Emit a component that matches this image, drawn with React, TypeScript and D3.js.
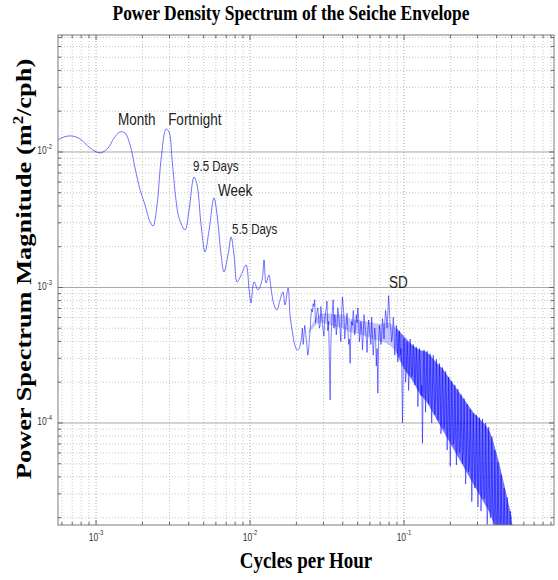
import React from 'react';
import * as d3 from 'd3';

// ---------------- DATA (log10 units: [log10(cycles per hour), log10(m^2/cph)]) ----------------
const lowBandLog10: [number, number][] = [
  [-3.247, -1.911], [-3.208, -1.889], [-3.156, -1.882], [-3.104, -1.904], [-3.039, -1.970],
  [-2.974, -2.007], [-2.922, -1.970], [-2.883, -1.897], [-2.844, -1.852], [-2.812, -1.860],
  [-2.779, -1.948], [-2.747, -2.118], [-2.714, -2.280], [-2.682, -2.391], [-2.649, -2.517],
  [-2.630, -2.546], [-2.604, -2.391], [-2.578, -2.059], [-2.545, -1.830], [-2.526, -1.852],
  [-2.506, -2.059], [-2.481, -2.354], [-2.461, -2.487], [-2.422, -2.576], [-2.396, -2.428],
  [-2.364, -2.185], [-2.344, -2.244], [-2.318, -2.539], [-2.292, -2.738], [-2.266, -2.576],
  [-2.234, -2.339], [-2.214, -2.465], [-2.188, -2.760], [-2.169, -2.886], [-2.143, -2.760],
  [-2.123, -2.627], [-2.104, -2.760], [-2.084, -2.959], [-2.058, -2.908], [-2.026, -2.834],
  [-2.006, -3.018], [-1.994, -3.114], [-1.974, -2.959], [-1.948, -3.018], [-1.922, -2.945],
  [-1.909, -2.797], [-1.896, -2.967], [-1.877, -2.908], [-1.864, -3.004], [-1.844, -3.129],
  [-1.825, -3.166], [-1.805, -3.092], [-1.786, -3.033], [-1.773, -3.129], [-1.753, -3.004],
  [-1.740, -3.203], [-1.727, -3.314], [-1.708, -3.430], [-1.695, -3.460], [-1.680, -3.450],
];

const highBandLog10: [number, number][] = [
  [-1.67, -3.40], [-1.66, -3.30], [-1.65, -3.36], [-1.64, -3.32], [-1.63, -3.44], [-1.62, -3.47],
  [-1.61, -3.32], [-1.60, -3.16], [-1.59, -3.12], [-1.58, -3.09], [-1.57, -3.22], [-1.56, -3.15],
  [-1.55, -3.30], [-1.54, -3.14], [-1.53, -3.27], [-1.52, -3.36], [-1.51, -3.18], [-1.50, -3.10],
  [-1.49, -3.25], [-1.48, -3.83], [-1.47, -3.28], [-1.46, -3.09], [-1.45, -3.20], [-1.44, -3.35],
  [-1.43, -3.15], [-1.42, -3.26], [-1.41, -3.40], [-1.40, -3.07], [-1.39, -3.22], [-1.38, -3.30],
  [-1.37, -3.19], [-1.36, -3.42], [-1.35, -3.56], [-1.34, -3.25], [-1.33, -3.17], [-1.32, -3.35],
  [-1.31, -3.20], [-1.30, -3.15], [-1.29, -3.40], [-1.28, -3.25], [-1.27, -3.46], [-1.26, -3.20],
  [-1.25, -3.32], [-1.24, -3.48], [-1.23, -3.24], [-1.22, -3.36], [-1.21, -3.22], [-1.20, -3.50],
  [-1.19, -3.30], [-1.18, -3.58], [-1.17, -3.78], [-1.16, -3.28], [-1.15, -3.42], [-1.14, -3.23],
  [-1.13, -3.38], [-1.12, -3.17], [-1.11, -3.30], [-1.10, -3.06], [-1.09, -3.28], [-1.08, -3.40],
  [-1.07, -3.22], [-1.06, -3.50], [-1.05, -3.28], [-1.04, -3.55], [-1.03, -3.32], [-1.02, -3.45],
  [-1.01, -4.00], [-1.00, -3.38], [-0.99, -3.70], [-0.98, -3.40], [-0.97, -3.76], [-0.96, -3.38],
  [-0.95, -3.66], [-0.94, -3.42], [-0.93, -3.72], [-0.92, -3.44], [-0.91, -3.88], [-0.90, -3.45],
  [-0.89, -3.80], [-0.88, -4.15], [-0.87, -3.46], [-0.86, -3.92], [-0.85, -3.47], [-0.84, -3.86],
  [-0.83, -3.49], [-0.82, -4.00], [-0.81, -3.50], [-0.80, -3.94], [-0.79, -3.53], [-0.78, -3.98],
  [-0.77, -3.56], [-0.76, -4.08], [-0.75, -3.59], [-0.74, -4.04], [-0.73, -3.62], [-0.72, -4.20],
  [-0.71, -3.66], [-0.70, -4.32], [-0.69, -3.69], [-0.68, -4.16], [-0.67, -3.72], [-0.66, -4.31],
  [-0.65, -3.75], [-0.64, -4.22], [-0.63, -3.79], [-0.62, -4.30], [-0.61, -3.82], [-0.60, -4.45],
  [-0.59, -3.86], [-0.58, -4.36], [-0.57, -3.90], [-0.56, -4.58], [-0.55, -3.93], [-0.54, -4.48],
  [-0.53, -3.94], [-0.52, -4.62], [-0.51, -3.96], [-0.50, -4.65], [-0.49, -3.97], [-0.48, -4.56],
  [-0.47, -4.00], [-0.46, -4.75], [-0.45, -4.03], [-0.44, -4.70], [-0.43, -4.10], [-0.42, -4.80],
  [-0.41, -4.20], [-0.40, -4.85], [-0.39, -4.29], [-0.38, -4.85], [-0.37, -4.38], [-0.36, -4.90],
  [-0.35, -4.48], [-0.34, -4.90], [-0.33, -4.55], [-0.32, -4.90], [-0.31, -4.65], [-0.30, -4.90],
  [-0.29, -4.76],
];

// intermediate spectral estimates between the bins above
const highBandMidLog10: [number, number][] = [
  [-1.665, -3.36], [-1.655, -3.42], [-1.645, -3.28], [-1.635, -3.38], [-1.625, -3.50], [-1.615, -3.38],
  [-1.605, -3.22], [-1.595, -3.18], [-1.585, -3.14], [-1.575, -3.26], [-1.565, -3.18], [-1.555, -3.22],
  [-1.545, -3.28], [-1.535, -3.20], [-1.525, -3.32], [-1.515, -3.24], [-1.505, -3.16], [-1.495, -3.32],
  [-1.485, -3.50], [-1.475, -3.40], [-1.465, -3.16], [-1.455, -3.30], [-1.445, -3.24], [-1.435, -3.28],
  [-1.425, -3.20], [-1.415, -3.32], [-1.405, -3.18], [-1.395, -3.14], [-1.385, -3.38], [-1.375, -3.26],
  [-1.365, -3.30], [-1.355, -3.38], [-1.345, -3.32], [-1.335, -3.28], [-1.325, -3.24], [-1.315, -3.30],
  [-1.305, -3.26], [-1.295, -3.22], [-1.285, -3.34], [-1.275, -3.30], [-1.265, -3.36], [-1.255, -3.26],
  [-1.245, -3.38], [-1.235, -3.32], [-1.225, -3.30], [-1.215, -3.42], [-1.205, -3.34], [-1.195, -3.40],
  [-1.185, -3.36], [-1.175, -3.45], [-1.165, -3.40], [-1.155, -3.32], [-1.145, -3.36], [-1.135, -3.28],
  [-1.125, -3.26], [-1.115, -3.22], [-1.105, -3.18], [-1.095, -3.16], [-1.085, -3.32], [-1.075, -3.36],
  [-1.065, -3.30], [-1.055, -3.40], [-1.045, -3.42], [-1.035, -3.40], [-1.025, -3.50], [-1.015, -3.56],
  [-1.005, -3.62], [-0.995, -3.48], [-0.985, -3.62], [-0.975, -3.52], [-0.965, -3.60], [-0.955, -3.50],
  [-0.945, -3.64], [-0.935, -3.52], [-0.925, -3.66], [-0.915, -3.56], [-0.905, -3.70], [-0.895, -3.58],
  [-0.885, -3.72], [-0.875, -3.64], [-0.865, -3.70], [-0.855, -3.62], [-0.845, -3.78], [-0.835, -3.66],
  [-0.825, -3.80], [-0.815, -3.70], [-0.805, -3.74], [-0.795, -3.82], [-0.785, -3.70], [-0.775, -3.88],
  [-0.765, -3.76], [-0.755, -3.90], [-0.745, -3.80], [-0.735, -3.94], [-0.725, -3.84], [-0.715, -4.00],
  [-0.705, -3.88], [-0.695, -4.04], [-0.685, -3.94], [-0.675, -4.10], [-0.665, -3.98], [-0.655, -4.14],
  [-0.645, -4.02], [-0.635, -4.18], [-0.625, -4.06], [-0.615, -4.20], [-0.605, -4.10], [-0.595, -4.26],
  [-0.585, -4.14], [-0.575, -4.30], [-0.565, -4.20], [-0.555, -4.34], [-0.545, -4.22], [-0.535, -4.40],
  [-0.525, -4.28], [-0.515, -4.44], [-0.505, -4.32], [-0.495, -4.48], [-0.485, -4.36], [-0.475, -4.54],
  [-0.465, -4.40], [-0.455, -4.60], [-0.445, -4.46], [-0.435, -4.66], [-0.425, -4.52], [-0.415, -4.72],
  [-0.405, -4.60], [-0.395, -4.78], [-0.385, -4.66], [-0.375, -4.82], [-0.365, -4.72], [-0.355, -4.85],
  [-0.345, -4.76], [-0.335, -4.85], [-0.325, -4.80], [-0.315, -4.88], [-0.305, -4.82], [-0.295, -4.85],
];

// core of the band between 0.02 and 0.09 cph: [log10 f, upper log10 P, lower log10 P]
const midCoreLog10: [number, number, number][] = [
  [-1.62, -3.32, -3.34], [-1.55, -3.20, -3.26], [-1.50, -3.19, -3.27], [-1.45, -3.20, -3.29],
  [-1.40, -3.20, -3.30], [-1.35, -3.23, -3.33], [-1.30, -3.24, -3.34], [-1.25, -3.25, -3.36],
  [-1.20, -3.26, -3.38], [-1.15, -3.27, -3.40], [-1.10, -3.26, -3.42], [-1.05, -3.30, -3.48],
];

// dense core of the band above 0.09 cph: [log10 f, upper log10 P, lower log10 P]
const denseCoreLog10: [number, number, number][] = [
  [-1.05, -3.30, -3.48], [-1.00, -3.36, -3.60], [-0.95, -3.42, -3.68], [-0.90, -3.46, -3.78],
  [-0.85, -3.48, -3.85], [-0.80, -3.54, -3.95], [-0.75, -3.60, -4.05], [-0.70, -3.68, -4.15],
  [-0.65, -3.76, -4.25], [-0.60, -3.84, -4.35], [-0.55, -3.92, -4.45], [-0.50, -3.98, -4.55],
  [-0.45, -4.05, -4.65], [-0.40, -4.22, -4.78], [-0.35, -4.45, -4.85], [-0.30, -4.70, -4.85],
];

// annotations: label, frequency (cph), power (m^2/cph)
const annotLabels = ['Month', 'Fortnight', '9.5 Days', 'Week', '5.5 Days', 'SD'];
const annotFreq = [1.39e-3, 2.938e-3, 4.266e-3, 6.194e-3, 7.638e-3, 8.0e-2];
const annotPower = [1.581e-2, 1.581e-2, 7.244e-3, 4.70e-3, 2.483e-3, 9.91e-4];
const annotSmall = [false, false, true, false, true, false];

const xMajorTicks = [1e-3, 1e-2, 1e-1];
const xMajorLabels = ['-3', '-2', '-1'];
const yMajorTicks = [1e-4, 1e-3, 1e-2];
const yMajorLabels = ['-4', '-3', '-2'];

const X_DOMAIN: [number, number] = [5.66e-4, 0.942];
const Y_DOMAIN: [number, number] = [1.766e-5, 0.073];

// ---------------- LAYOUT ----------------
const W = 558, H = 580;
const PL = 58, PR = 554, PT = 35, PB = 525;
const VS = 1.2; // vertical stretch of the original figure
const serif = '"Liberation Serif", "Times New Roman", serif';
const sans = '"Liberation Sans", Arial, sans-serif';

export default function App() {
  const x = d3.scaleLog().domain(X_DOMAIN).range([PL, PR]);
  const y = d3.scaleLog().domain(Y_DOMAIN).range([PB, PT]);
  const p10 = (v: number) => Math.pow(10, v);

  const smoothLine = d3.line<[number, number]>()
    .x(d => x(p10(d[0]))).y(d => y(p10(d[1])))
    .curve(d3.curveCatmullRom.alpha(0.5));
  const noisyLine = d3.line<[number, number]>()
    .x(d => x(p10(d[0]))).y(d => y(p10(d[1])));
  const coreArea = d3.area<[number, number, number]>()
    .x(d => x(p10(d[0]))).y0(d => y(p10(d[2]))).y1(d => y(p10(d[1])))
    .curve(d3.curveCatmullRom.alpha(0.5));

  const highBand = [lowBandLog10[lowBandLog10.length - 1], ...highBandLog10, ...highBandMidLog10]
    .slice()
    .sort((a, b) => a[0] - b[0]);

  const isMajor = (v: number) => Math.abs(Math.log10(v) - Math.round(Math.log10(v))) < 1e-6;
  const xt = x.ticks().filter(v => v > X_DOMAIN[0] && v < X_DOMAIN[1]);
  const yt = y.ticks().filter(v => v > Y_DOMAIN[0] && v < Y_DOMAIN[1]);

  const blue = '#0000ff';

  return (
    <svg width={W} height={H} style={{ position: 'absolute', left: 0, top: 0, background: '#fff' }}>
      <rect x={0} y={0} width={W} height={H} fill="#fff" />
      <defs>
        <clipPath id="plotclip">
          <rect x={PL} y={PT} width={PR - PL} height={PB - PT} />
        </clipPath>
      </defs>

      {/* grid */}
      {xt.map((v, i) => (
        <line key={'gx' + i} x1={x(v)} x2={x(v)} y1={PT} y2={PB}
          stroke={isMajor(v) ? '#a6a6a6' : '#c4c4c4'} strokeWidth={1} strokeDasharray="1,2" />
      ))}
      {yt.map((v, i) => (
        <line key={'gy' + i} x1={PL} x2={PR} y1={y(v)} y2={y(v)}
          stroke={isMajor(v) ? '#a8a8a8' : '#c4c4c4'} strokeWidth={1}
          strokeDasharray={isMajor(v) ? undefined : '1,2'} />
      ))}

      {/* series */}
      <g clipPath="url(#plotclip)">
        <path d={coreArea(midCoreLog10) || ''} fill={blue} fillOpacity={0.22} stroke="none" />
        <path d={coreArea(denseCoreLog10) || ''} fill={blue} fillOpacity={0.55} stroke="none" />
        <path d={smoothLine(lowBandLog10) || ''} fill="none" stroke={blue} strokeWidth={1} strokeOpacity={0.55} />
        <path d={noisyLine(highBand) || ''}
          fill="none" stroke={blue} strokeWidth={0.85} strokeOpacity={0.6} strokeLinejoin="round" />
      </g>

      {/* axes box */}
      <rect x={PL} y={PT} width={PR - PL} height={PB - PT} fill="none" stroke="#7a7a7a" strokeWidth={1} />

      {/* ticks */}
      {xt.map((v, i) => {
        const len = isMajor(v) ? 5 : 3;
        return (
          <g key={'tx' + i} stroke="#666" strokeWidth={1}>
            <line x1={x(v)} x2={x(v)} y1={PB} y2={PB - len} />
            <line x1={x(v)} x2={x(v)} y1={PT} y2={PT + len} />
          </g>
        );
      })}
      {yt.map((v, i) => {
        const len = isMajor(v) ? 5 : 3;
        return (
          <g key={'ty' + i} stroke="#666" strokeWidth={1}>
            <line x1={PL} x2={PL + len} y1={y(v)} y2={y(v)} />
            <line x1={PR} x2={PR - len} y1={y(v)} y2={y(v)} />
          </g>
        );
      })}

      {/* tick labels */}
      {xMajorTicks.map((v, i) => (
        <g key={'lx' + i} transform={`translate(${x(v)},${PB + 15.5}) scale(1,${VS})`}>
          <text x={0} y={0} textAnchor="middle" fontFamily={sans} fontSize={8.5} fill="#333">
            10<tspan dy={-4.5} fontSize={6}>{xMajorLabels[i]}</tspan>
          </text>
        </g>
      ))}
      {yMajorTicks.map((v, i) => (
        <g key={'ly' + i} transform={`translate(${PL - 6},${y(v) + 2.5}) scale(1,${VS})`}>
          <text x={0} y={0} textAnchor="end" fontFamily={sans} fontSize={8.5} fill="#333">
            10<tspan dy={-4.5} fontSize={6}>{yMajorLabels[i]}</tspan>
          </text>
        </g>
      ))}

      {/* annotations */}
      {annotLabels.map((t, i) => (
        <g key={'an' + i} transform={`translate(${x(annotFreq[i])},${y(annotPower[i])}) scale(1,${VS})`}>
          <text x={0} y={0} fontFamily={sans} fontSize={annotSmall[i] ? 11.5 : 13.5} fill="#222">{t}</text>
        </g>
      ))}

      {/* title */}
      <g transform={`translate(291,19.5) scale(1,${VS})`}>
        <text x={0} y={0} textAnchor="middle" fontFamily={serif} fontWeight="bold" fontSize={17.5} fill="#000">
          Power Density Spectrum of the Seiche Envelope
        </text>
      </g>
      {/* x label */}
      <g transform={`translate(306,568) scale(1,${VS})`}>
        <text x={0} y={0} textAnchor="middle" fontFamily={serif} fontWeight="bold" fontSize={19} fill="#000">
          Cycles per Hour
        </text>
      </g>
      {/* y label */}
      <g transform={`translate(31,269) rotate(-90) scale(${VS},1)`}>
        <text x={0} y={0} textAnchor="middle" fontFamily={serif} fontWeight="bold" fontSize={22} fill="#000">
          Power Spectrum Magnitude (m<tspan dy={-8} fontSize={14}>2</tspan><tspan dy={8}>/cph)</tspan>
        </text>
      </g>
    </svg>
  );
}
